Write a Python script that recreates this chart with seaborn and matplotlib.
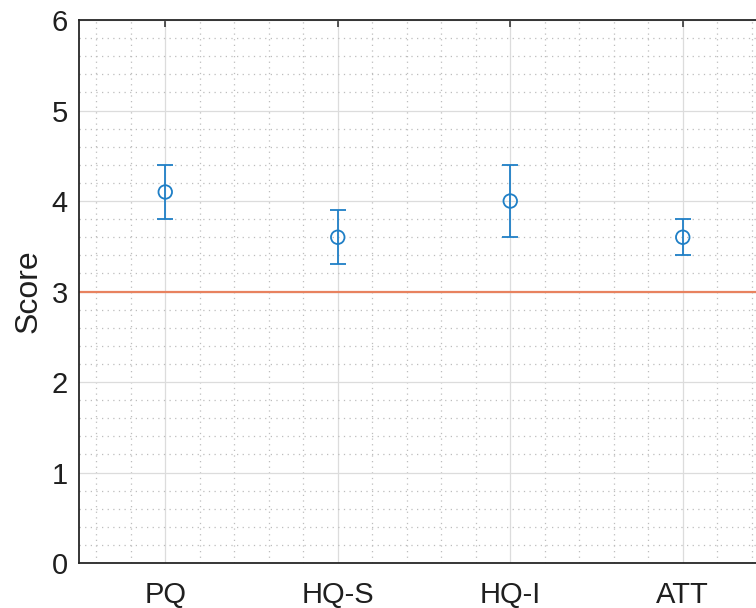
import numpy as np
import matplotlib
matplotlib.use("Agg")
import matplotlib.pyplot as plt
import seaborn as sns
from matplotlib.ticker import MultipleLocator

# data
categories = ["PQ", "HQ-S", "HQ-I", "ATT"]
means = [4.1, 3.6, 4.0, 3.6]
lower = [3.8, 3.3, 3.6, 3.4]
upper = [4.4, 3.9, 4.4, 3.8]
reference = 3.0

sns.set_style("white")
plt.rcParams["font.family"] = ["Liberation Sans", "DejaVu Sans"]

blue = "#1f7fc6"
fig = plt.figure(figsize=(7.56, 6.08), dpi=100)
ax = fig.add_axes([0.1045, 0.074, 0.9127, 0.893])

pos = np.arange(len(categories))
err = [np.array(means) - np.array(lower), np.array(upper) - np.array(means)]

ax.axhline(reference, color="#e8825f", lw=1.6, zorder=2)
ax.errorbar(pos, means, yerr=err, fmt="none", ecolor=blue,
            elinewidth=1.3, capsize=5.5, capthick=1.3, zorder=3)
sns.scatterplot(x=categories, y=means, ax=ax, marker="o", s=95,
                facecolor="none", edgecolor=blue, linewidth=1.3, zorder=4)

ax.set_xlim(-0.5, 3.5)
ax.set_ylim(0, 6)
ax.set_xticks(pos)
ax.set_xticklabels(categories)
ax.xaxis.set_minor_locator(MultipleLocator(0.2))
ax.yaxis.set_major_locator(MultipleLocator(1))
ax.yaxis.set_minor_locator(MultipleLocator(0.2))

ax.grid(which="major", color="#dcdcdc", lw=0.9, ls="-")
ax.grid(which="minor", color="#bdbdbd", lw=0.9, ls=(0, (1, 3.5)))
ax.set_axisbelow(True)

for s in ax.spines.values():
    s.set_color("#262626")
    s.set_linewidth(1.3)

ax.tick_params(which="major", direction="in", length=5, width=1.1,
               color="#262626", labelsize=21, top=True, right=True,
               labelcolor="#1f1f1f")
ax.tick_params(axis="x", pad=13)
ax.tick_params(axis="y", pad=8)
ax.tick_params(which="minor", length=0)

ax.set_ylabel("Score", fontsize=23, color="#1f1f1f", labelpad=6)
ax.set_xlabel("")

fig.savefig("out.png", dpi=100)
